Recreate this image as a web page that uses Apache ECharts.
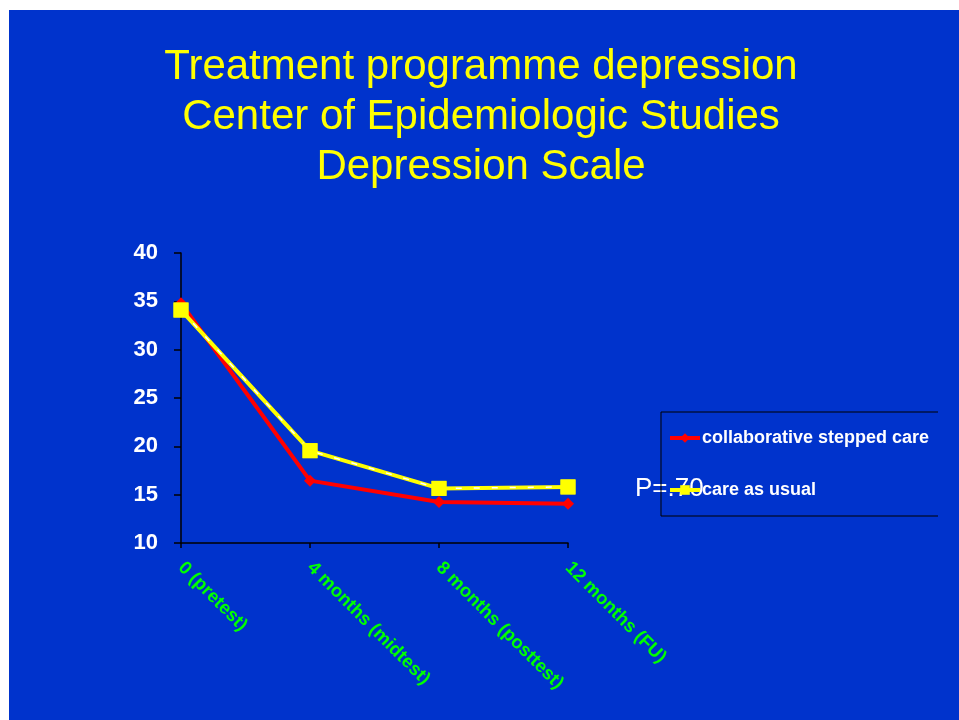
<!DOCTYPE html>
<html lang="en">
<head>
    <meta charset="UTF-8">
    <script src="https://cdn.jsdelivr.net/npm/echarts@6/dist/echarts.min.js"></script>
    <title>Treatment programme depression</title>
    <style>
        html, body { margin: 0; padding: 0; background: #fff; }
        #main { width: 959px; height: 720px; }
    </style>
</head>
<body>
    <div id="main"></div>
    <script type="text/javascript">
        // data
        var categories = ['0 (pretest)', '4 months (midtest)', '8 months (posttest)', '12 months (FU)'];
        var stepped = [34.8, 16.45, 14.25, 14.05];   // collaborative stepped care
        var usual = [34.1, 19.55, 15.65, 15.8];      // care as usual
        var yTicks = { min: 10, max: 40, step: 5 };

        var myChart = echarts.init(document.getElementById('main'));

        var option = {
            backgroundColor: '#fff',
            animation: false,
            title: {
                text: 'Treatment programme depression\nCenter of Epidemiologic Studies\nDepression Scale',
                left: 476,
                top: 37,
                textAlign: 'center',
                textStyle: {
                    color: '#ffff00',
                    fontFamily: 'Liberation Sans, Arial',
                    fontSize: 42,
                    fontWeight: 'normal',
                    lineHeight: 50
                }
            },
            graphic: [
                // slide background
                { type: 'rect', z: -10, shape: { x: 9, y: 10, width: 950, height: 710 }, style: { fill: '#0033cc' } },
                // legend frame (no right edge)
                { type: 'polyline', z: 1, shape: { points: [[938, 412], [661, 412], [661, 516], [938, 516]] },
                  style: { stroke: '#000', lineWidth: 1, fill: null } },
                { type: 'text', z: 0, left: 635, top: 476,
                  style: { text: 'P=.70', fill: '#fff', font: '26px "Liberation Sans", Arial' } }
            ],
            legend: {
                data: ['collaborative stepped care', 'care as usual'],
                orient: 'vertical',
                left: 663,
                top: 424,
                itemGap: 34,
                itemWidth: 30,
                itemHeight: 12,
                lineStyle: { width: 4 },
                textStyle: { color: '#fff', fontWeight: 'bold', fontSize: 18, fontFamily: 'Liberation Sans, Arial', padding: [0, 0, 0, -3] }
            },
            grid: { left: 181, right: 391, top: 253, bottom: 177, containLabel: false },
            xAxis: {
                type: 'category',
                data: categories,
                boundaryGap: false,
                axisLine: { lineStyle: { color: '#000', width: 1.5 } },
                axisTick: { show: true, length: 5, lineStyle: { color: '#000', width: 1.5 } },
                axisLabel: {
                    rotate: -45,
                    interval: 0,
                    margin: 22,
                    color: '#00ff00',
                    fontWeight: 'bold',
                    fontSize: 18.5,
                    fontFamily: 'Liberation Sans, Arial'
                }
            },
            yAxis: {
                type: 'value',
                min: yTicks.min,
                max: yTicks.max,
                interval: yTicks.step,
                splitLine: { show: false },
                axisLine: { show: true, lineStyle: { color: '#000', width: 1.5 } },
                axisTick: { show: true, length: 7, lineStyle: { color: '#000', width: 1.5 } },
                axisLabel: {
                    margin: 23,
                    color: '#fff',
                    fontWeight: 'bold',
                    fontSize: 22,
                    fontFamily: 'Liberation Sans, Arial'
                }
            },
            series: [
                {
                    name: 'collaborative stepped care',
                    type: 'line',
                    data: stepped,
                    z: 2,
                    symbol: 'diamond',
                    symbolSize: 12,
                    itemStyle: { color: '#ff0000' },
                    lineStyle: { color: '#ff0000', width: 4 }
                },
                {
                    name: 'care as usual',
                    type: 'line',
                    data: usual,
                    z: 3,
                    symbol: 'rect',
                    symbolSize: 15,
                    itemStyle: { color: '#ffff00' },
                    lineStyle: { color: '#ffff00', width: 4 }
                },
                {
                    // thin white dashes along the yellow line
                    name: 'usual-dash',
                    type: 'line',
                    data: usual,
                    z: 4,
                    symbol: 'none',
                    silent: true,
                    lineStyle: { color: '#fff', width: 1.5, type: [6, 12] }
                },
                {
                    // yellow squares on top of the dashes
                    name: 'usual-marks',
                    type: 'line',
                    data: usual,
                    z: 5,
                    symbol: 'rect',
                    symbolSize: 15,
                    silent: true,
                    itemStyle: { color: '#ffff00' },
                    lineStyle: { width: 0, opacity: 0 }
                }
            ]
        };
        myChart.setOption(option, true);
    </script>
</body>
</html>
